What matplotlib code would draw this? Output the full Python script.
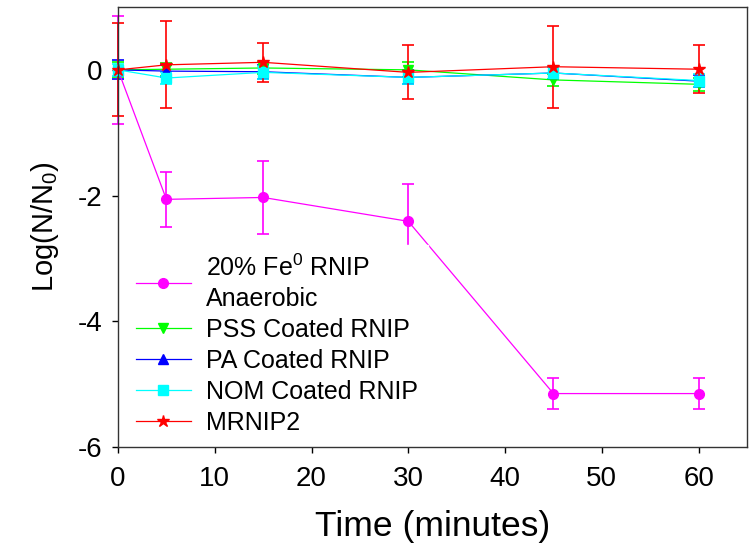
import matplotlib
matplotlib.use("Agg")
import matplotlib.pyplot as plt

plt.rcParams['font.family'] = ['Liberation Sans', 'DejaVu Sans']
plt.rcParams['mathtext.fontset'] = 'custom'
plt.rcParams['mathtext.rm'] = 'Liberation Sans'
plt.rcParams['mathtext.it'] = 'Liberation Sans:italic'
plt.rcParams['axes.unicode_minus'] = False

time = [0, 5, 15, 30, 45, 60]

fe_rnip = [0, -2.06, -2.03, -2.41, -5.15, -5.15]
fe_rnip_err = [0.86, 0.44, 0.58, 0.60, 0.24, 0.24]

pss = [0, 0.01, 0.03, 0.0, -0.16, -0.23]
pss_err = [0.12, 0.1, 0.1, 0.12, 0.1, 0.1]

pa = [0, -0.02, -0.03, -0.12, -0.05, -0.18]
pa_err = [0.15, 0.1, 0.11, 0.11, 0.1, 0.1]

nom = [0, -0.13, -0.04, -0.12, -0.05, -0.17]
nom_err = [0.1, 0.1, 0.1, 0.1, 0.1, 0.1]

mrnip2 = [0, 0.08, 0.12, -0.04, 0.05, 0.01]
mrnip2_err = [0.74, 0.69, 0.31, 0.43, 0.65, 0.385]

labels = ["20% Fe$^0$ RNIP\nAnaerobic", "PSS Coated RNIP", "PA Coated RNIP",
          "NOM Coated RNIP", "MRNIP2"]

fig = plt.figure(figsize=(7.49, 5.54), dpi=100)
ax = fig.add_axes([118 / 749, 1 - 447 / 554, 629 / 749, 440 / 554])

series = [
    (fe_rnip, fe_rnip_err, "#ff00ff", "o", 7),
    (pss, pss_err, "#00ff00", "v", 7),
    (pa, pa_err, "#0000ff", "^", 7),
    (nom, nom_err, "#00ffff", "s", 7),
    (mrnip2, mrnip2_err, "#ff0000", "*", 9),
]
handles = []
for (vals, errs, col, mk, ms), lab in zip(series, labels):
    c = ax.errorbar(time, vals, yerr=errs, color=col, marker=mk, markersize=ms,
                    linewidth=0.9, elinewidth=1.2, capsize=4.5, capthick=1.2,
                    ecolor=col, label=lab, clip_on=False)
    for part in c.lines[1] + c.lines[2]:
        part.set_clip_on(False)
    handles.append(c.lines[0])

ax.set_xlim(0, 65)
ax.set_ylim(-6, 1)
ax.set_xticks([0, 10, 20, 30, 40, 50, 60])
ax.set_yticks([-6, -4, -2, 0])
ax.tick_params(direction='out', length=4.5, width=1, labelsize=20, pad=7,
               top=False, right=False)
ax.tick_params(axis='x', pad=9)
for s in ax.spines.values():
    s.set_linewidth(1)
    s.set_color("#333333")
    s.set_zorder(10)

ax.set_xlabel("Time (minutes)", fontsize=25.5, labelpad=13)
ax.set_ylabel("Log(N/N$_0$)", fontsize=21, labelpad=12)

leg = ax.legend(handles=handles, labels=labels, loc='upper left',
                bbox_to_anchor=(0.012, 0.46), borderaxespad=0,
                fontsize=18, frameon=True, fancybox=False, framealpha=1,
                edgecolor='white', facecolor='white', handlelength=2.2,
                handletextpad=0.6, labelspacing=0.28, borderpad=0.4)
leg.set_zorder(5)
leg.get_texts()[0].set_linespacing(1.3)

fig.savefig("out.png", dpi=100)
